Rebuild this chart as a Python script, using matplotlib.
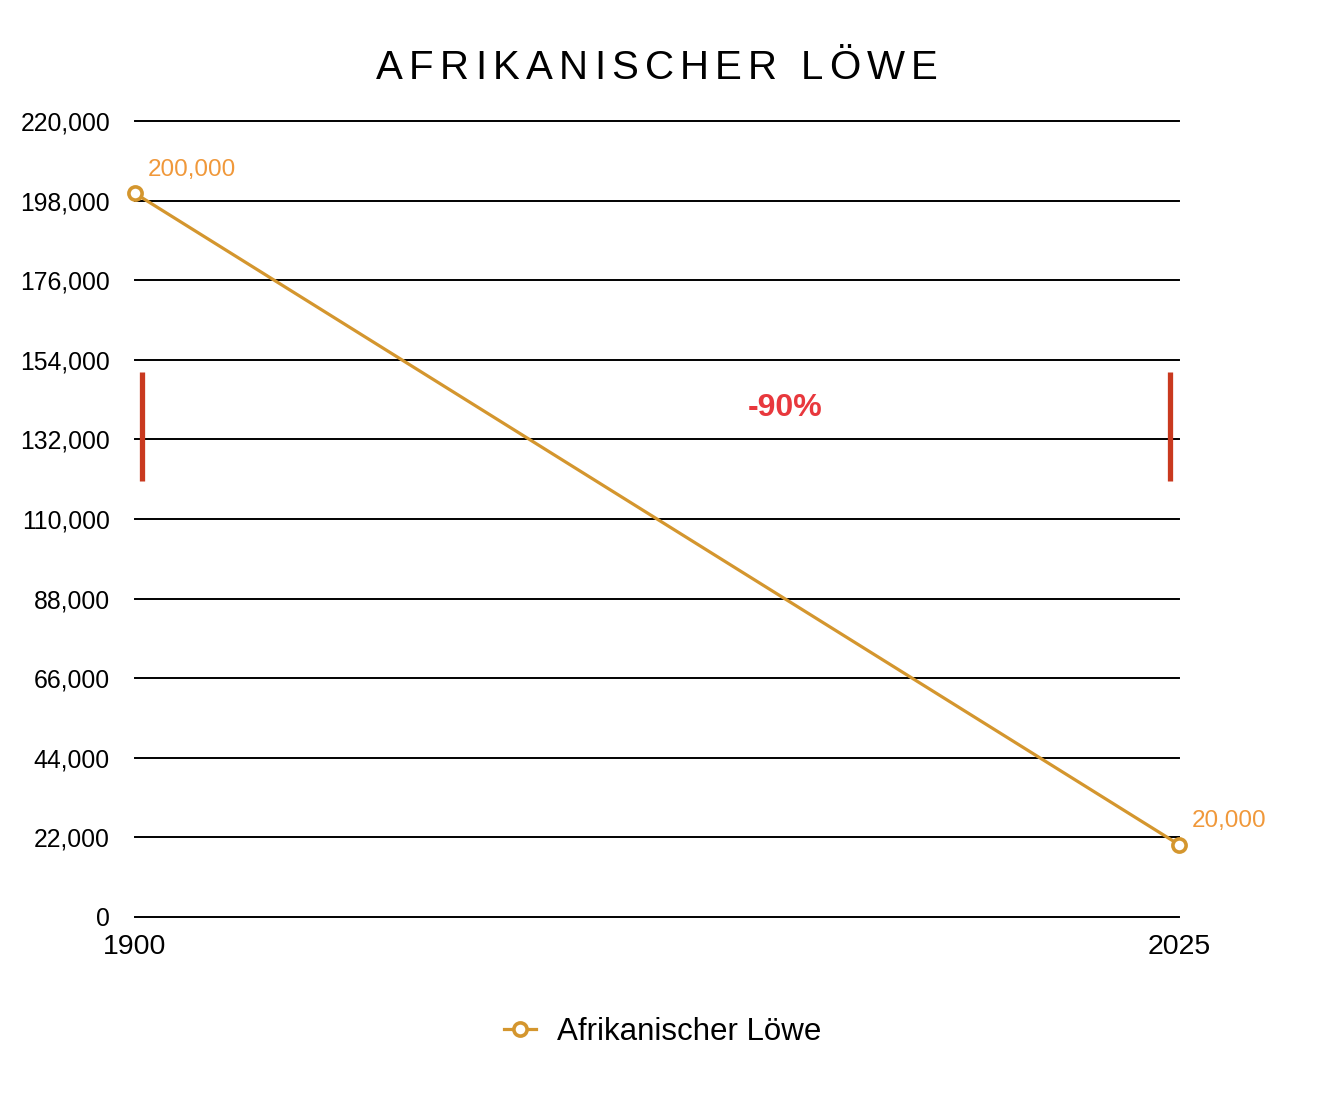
import numpy as np
import matplotlib.pyplot as plt
from matplotlib.ticker import FuncFormatter

# data
years = [1900, 2025]
lions = [200000, 20000]
value_labels = ['200,000', '20,000']
series_name = 'Afrikanischer Löwe'
title = 'AFRIKANISCHER LÖWE'
change_label = '-90%'
yticks = np.arange(0, 220001, 22000)

plt.rcParams['font.family'] = ['Liberation Sans', 'DejaVu Sans']

line_col = '#d4962e'
label_col = '#f0983a'
red_bar = '#c9391f'
red_txt = '#e8383d'

fig = plt.figure(figsize=(13.18, 10.94), dpi=100)
ax = fig.add_axes([135/1318, 1 - 917/1094, (1179-135)/1318, (917-121)/1094])

ax.plot(years, lions, color=line_col, lw=2.3, marker='o', ms=9.5,
        mfc='white', mec=line_col, mew=2.6, clip_on=False, zorder=5,
        label=series_name)

for x, y, s in zip(years, lions, value_labels):
    ax.annotate(s, (x, y), xytext=(9.5, 17), textcoords='offset points',
                color=label_col, fontsize=17.5, ha='left', va='center')

ax.set_xlim(1900, 2025)
ax.set_ylim(0, 220000)
ax.set_yticks(yticks)
ax.set_xticks(years)
ax.yaxis.set_major_formatter(FuncFormatter(lambda v, p: f'{int(v):,}'))
ax.grid(axis='y', color='black', lw=1.4)
for gl in ax.get_ygridlines():
    gl.set_clip_on(False)
ax.set_axisbelow(True)
for sp in ax.spines.values():
    sp.set_visible(False)
ax.tick_params(axis='y', length=0, pad=18, labelsize=17.8)
ax.tick_params(axis='x', length=0, pad=12, labelsize=20.5)

# change marker: bars at both ends and the percentage
tr = ax.get_yaxis_transform()
ax.vlines([0.0067, 0.991], 120500, 150500, transform=tr, color=red_bar, lw=3.8)
ax.text(0.6226, 140700, change_label, transform=tr, color=red_txt,
        fontsize=23, fontweight='bold', ha='center', va='center')

# title with letter spacing, one character at a time
fig.canvas.draw()
r = fig.canvas.get_renderer()
tsize = 29
widths = []
for ch in title:
    t = fig.text(0, 0, ch if ch != ' ' else 'I', fontsize=tsize)
    widths.append(t.get_window_extent(r).width)
    t.remove()
target = 938 - 376
spacing = (target - sum(widths)) / (len(title) - 1)
x = 376
for ch, w in zip(title, widths):
    fig.text(x / 1318, 1 - 68 / 1094, ch, fontsize=tsize, ha='left', va='center')
    x += w + spacing

leg = fig.legend(loc='center', bbox_to_anchor=(663/1318, 1 - 1032/1094),
                 frameon=False, fontsize=22.5, handlelength=1.0,
                 handletextpad=0.7)

fig.savefig('out.png', dpi=100, facecolor='white')
